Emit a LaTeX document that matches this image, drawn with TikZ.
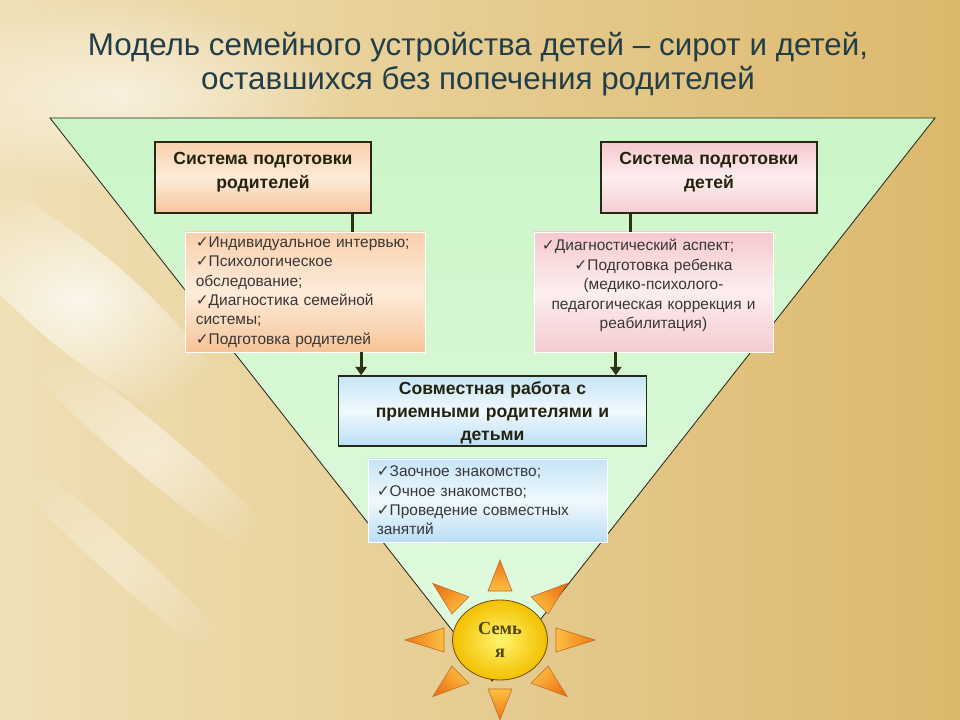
\documentclass[tikz,border=0pt]{standalone}
\usepackage{fontspec}
\setmainfont{Liberation Sans}
\newfontfamily\symfont{DejaVu Sans}
\newfontfamily\sunfont{Liberation Serif}
\usepackage{tikz}
\usetikzlibrary{positioning}
\usetikzlibrary{calc}
\usetikzlibrary{arrows.meta}
\usetikzlibrary{shapes.geometric}
\usetikzlibrary{fadings}
\definecolor{bgl}{RGB}{240,224,182}
\definecolor{bgr}{RGB}{220,184,108}
\definecolor{grtop}{RGB}{203,245,200}
\definecolor{grbot}{RGB}{226,250,224}
\definecolor{titlecol}{RGB}{34,62,72}
\definecolor{boxline}{RGB}{40,40,25}
\definecolor{headtext}{RGB}{35,35,15}
\definecolor{listtext}{RGB}{55,55,55}
\definecolor{linkcol}{RGB}{45,50,20}
\definecolor{orA}{RGB}{249,208,172}
\definecolor{orB}{RGB}{253,236,218}
\definecolor{orC}{RGB}{247,196,152}
\definecolor{pkA}{RGB}{245,200,206}
\definecolor{pkB}{RGB}{253,238,238}
\definecolor{pkC}{RGB}{244,204,210}
\definecolor{blA}{RGB}{198,229,247}
\definecolor{blB}{RGB}{240,249,253}
\definecolor{blC}{RGB}{186,222,245}
\definecolor{suninner}{RGB}{255,244,110}
\definecolor{sunouter}{RGB}{243,192,0}
\definecolor{sunline}{RGB}{110,85,20}
\definecolor{suntext}{RGB}{80,70,15}
\definecolor{raytip}{RGB}{238,118,22}
\definecolor{raybase}{RGB}{252,192,64}
\definecolor{rayline}{RGB}{190,105,35}
\newcommand{\tickmark}{{\symfont\char"2713}}
\tikzfading[name=glow, inner color=transparent!0, outer color=transparent!100]

\begin{document}
\begin{tikzpicture}[x=0.025cm, y=-0.025cm,
	head/.style={draw=boxline, line width=1pt, rectangle, inner xsep=0.2cm, align=center, text=headtext, font=\fontsize{12.5}{17}\selectfont\bfseries},
	list/.style={draw=white, line width=0.6pt, rectangle, inner ysep=0pt, text=listtext, font=\fontsize{11}{13.8}\selectfont},
	link/.style={draw=linkcol, line width=2.6pt},
	arr/.style={draw=linkcol, line width=2pt, -{Triangle[width=8pt,length=6pt]}},
	glare/.style={white, path fading=glow}]
	\useasboundingbox (0,0) rectangle (960,720);
	\shade[left color=bgl, right color=bgr] (0,0) rectangle (960,720);
	\fill[glare, opacity=0.6] (120,95) ellipse [x radius=230, y radius=95];
	\fill[glare, opacity=0.75, rotate around={-40:(80,300)}] (80,300) ellipse [x radius=190, y radius=50];
	\fill[glare, opacity=0.5, rotate around={-40:(150,450)}] (150,450) ellipse [x radius=190, y radius=24];
	\fill[glare, opacity=0.35, rotate around={-42:(120,560)}] (120,560) ellipse [x radius=180, y radius=18];

	\node[text=titlecol, align=center, font=\fontsize{22.3}{24.5}\selectfont] (T) at (478,64)
		{Модель семейного устройства детей – сирот и детей,\\ оставшихся без попечения родителей};

	\shade[draw=boxline, line width=0.6pt, top color=grtop, bottom color=grbot] (50,118) -- (935,118) -- (492,681) -- cycle;

	\node[head, text width=5cm, minimum height=1.775cm, top color=orA, bottom color=orC, middle color=orB] (A) at (263,177.5)
		{Система подготовки\\ родителей\\[-7pt]\mbox{}};
	\node[head, text width=5cm, minimum height=1.775cm, top color=pkA, bottom color=pkC, middle color=pkB] (B) at (709,177.5)
		{Система подготовки\\ детей\\[-7pt]\mbox{}};

	\node[list, inner xsep=0.27cm, text width=5.46cm, minimum height=3cm, align=left, top color=orA, bottom color=orC, middle color=orB] (LA) at (305,292)
		{\tickmark Индивидуальное интервью;\\ \tickmark Психологическое\\ обследование;\\ \tickmark Диагностика семейной\\ системы;\\ \tickmark Подготовка родителей};
	\node[list, inner xsep=0.2cm, text width=5.575cm, minimum height=3cm, align=center, top color=pkA, bottom color=pkC, middle color=pkB] (LB) at (653.5,292)
		{\makebox[\linewidth][l]{\tickmark Диагностический аспект;}\\ \tickmark Подготовка ребенка\\ (медико-психолого-\\ педагогическая коррекция и\\ реабилитация)\\[-2.5pt]\mbox{}};

	\node[head, inner ysep=0pt, text width=7.3cm, minimum height=1.75cm, top color=blA, bottom color=blC, middle color=blB, font=\fontsize{12.5}{16.3}\selectfont\bfseries] (C) at (492.5,411)
		{\mbox{}\\[-4pt]Совместная работа с\\ приемными родителями и\\ детьми};
	\node[list, inner xsep=0.22cm, text width=5.535cm, minimum height=2.075cm, align=left, top color=blA, bottom color=blC, middle color=blB] (LC) at (487.5,500.5)
		{\tickmark Заочное знакомство;\\ \tickmark Очное знакомство;\\ \tickmark Проведение совместных\\ занятий};

	% connectors
	\coordinate (a1) at ($(A.south west)!0.912!(A.south east)$);
	\coordinate (b1) at ($(B.south west)!0.139!(B.south east)$);
	\coordinate (a2) at ($(LA.south west)!0.733!(LA.south east)$);
	\coordinate (b2) at ($(LB.south west)!0.343!(LB.south east)$);
	\draw[link] (a1) -- (a1 |- LA.north);
	\draw[link] (b1) -- (b1 |- LB.north);
	\draw[arr] (a2) -- (a2 |- C.north);
	\draw[arr] (b2) -- (b2 |- C.north);

	% sun
	\node[ellipse, draw=sunline, line width=0.6pt, minimum width=2.375cm, minimum height=2cm, inner color=suninner, outer color=sunouter,
		align=center, text=suntext, font=\sunfont\bfseries\fontsize{13}{16}\selectfont] (F) at (500,640) {Семь\\я};
	\foreach \a in {0,45,...,315}{
		\shade[draw=rayline, line width=0.4pt, top color=raytip, bottom color=raybase, shading angle={-\a-90}]
			($(F.center)+({95*cos(\a)},{80*sin(\a)})$) --
			($(F.center)+({56*cos(\a)-12*sin(\a)},{49*sin(\a)+12*cos(\a)})$) --
			($(F.center)+({56*cos(\a)+12*sin(\a)},{49*sin(\a)-12*cos(\a)})$) -- cycle;
	}
\end{tikzpicture}
\end{document}
